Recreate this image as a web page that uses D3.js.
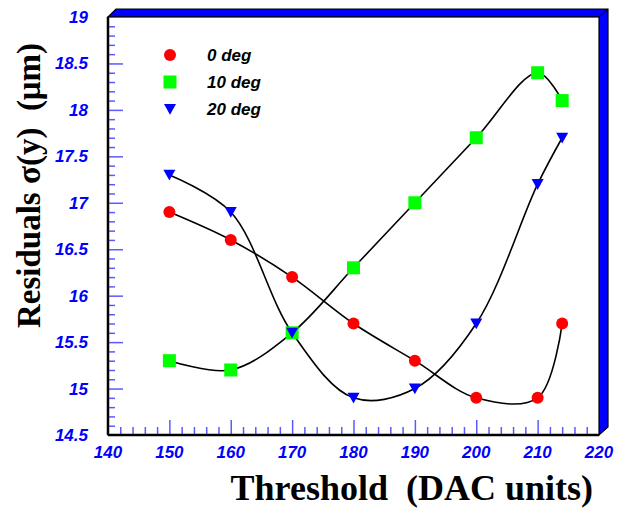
<!DOCTYPE html>
<html>
<head>
<meta charset="utf-8">
<script src="https://cdn.jsdelivr.net/npm/d3@7"></script>
<style>
  html, body { margin: 0; padding: 0; background: #fff; }
  svg { display: block; }
</style>
</head>
<body>
<svg id="chart" width="619" height="508"></svg>
<script>
// Threshold scan values (DAC units)
const thresholds = [150, 160, 170, 180, 190, 200, 210, 214];

// Residual widths (µm) per incidence angle
const series0deg = [16.9, 16.6, 16.2, 15.7, 15.3, 14.9, 14.9, 15.7];
const series10deg = [15.3, 15.2, 15.6, 16.3, 17.0, 17.7, 18.4, 18.1];
const series20deg = [17.3, 16.9, 15.6, 14.9, 15.0, 15.7, 17.2, 17.7];

const seriesNames = ["0 deg", "10 deg", "20 deg"];
const xTicks = [140, 150, 160, 170, 180, 190, 200, 210, 220];
const yTicks = [14.5, 15, 15.5, 16, 16.5, 17, 17.5, 18, 18.5, 19];

const svg = d3.select("#chart");
const L = 108, T = 17, R = 599, B = 435, D = 8;

const x = d3.scaleLinear().domain([140, 220]).range([L, R]);
const y = d3.scaleLinear().domain([14.5, 19]).range([B, T]);

// 3D frame: blue depth band on top and right
svg.append("polygon")
  .attr("points", [[L, T], [L + D, T - D], [R + D + 1, T - D], [R + D + 1, B - D], [R, B], [R, T]].map(p => p.join(",")).join(" "))
  .attr("fill", "#0000ff").attr("stroke", "#000").attr("stroke-width", 1.2);
svg.append("line").attr("x1", R).attr("y1", T).attr("x2", R + D + 1).attr("y2", T - D)
  .attr("stroke", "#000").attr("stroke-width", 1);
svg.append("rect").attr("x", L).attr("y", T).attr("width", R - L).attr("height", B - T)
  .attr("fill", "#fff").attr("stroke", "#000").attr("stroke-width", 1.2);

// Tick marks (major + minor) in light blue
const tickColor = "#5a5aff";
const xMinor = d3.range(142, 220, 2).filter(v => v % 10 !== 0);
const yMinor = d3.range(146, 190, 1).map(v => v / 10).filter(v => Math.abs(v * 2 - Math.round(v * 2)) > 1e-6);

const xAxisMajor = d3.axisTop(x).tickValues(xTicks.slice(1, -1)).tickSize(15).tickFormat("");
const xAxisMinor = d3.axisTop(x).tickValues(xMinor).tickSize(8).tickFormat("");
const yAxisMajor = d3.axisRight(y).tickValues(yTicks.slice(1, -1)).tickSize(15).tickFormat("");
const yAxisMinor = d3.axisRight(y).tickValues(yMinor).tickSize(7).tickFormat("");

[[xAxisMajor, `translate(0,${B})`], [xAxisMinor, `translate(0,${B})`],
 [yAxisMajor, `translate(${L},0)`], [yAxisMinor, `translate(${L},0)`]].forEach(([ax, tr]) => {
  const g = svg.append("g").attr("transform", tr).call(ax);
  g.select(".domain").remove();
  g.selectAll(".tick line").attr("stroke", tickColor).attr("stroke-width", 1.5);
});

// Axis lines
svg.append("line").attr("x1", L).attr("y1", B).attr("x2", R).attr("y2", B).attr("stroke", "#000").attr("stroke-width", 2.5);
svg.append("line").attr("x1", L).attr("y1", T).attr("x2", L).attr("y2", B).attr("stroke", "#000").attr("stroke-width", 2.5);

// Tick labels
const labelFont = "Liberation Sans, Arial, sans-serif";
svg.append("g").selectAll("text").data(xTicks).join("text")
  .attr("x", d => x(d)).attr("y", 458)
  .attr("text-anchor", "middle")
  .attr("font-family", labelFont).attr("font-size", 17).attr("font-weight", "bold").attr("font-style", "italic")
  .attr("fill", "#0000ff").text(d => d);
svg.append("g").selectAll("text").data(yTicks).join("text")
  .attr("x", 88).attr("y", d => y(d) + 6)
  .attr("text-anchor", "end")
  .attr("font-family", labelFont).attr("font-size", 17).attr("font-weight", "bold").attr("font-style", "italic")
  .attr("fill", "#0000ff").text(d => d);

// Axis titles
svg.append("text")
  .attr("x", 593).attr("y", 500).attr("text-anchor", "end")
  .attr("font-family", "Liberation Serif, Times New Roman, serif").attr("font-size", 36).attr("font-weight", "bold")
  .attr("fill", "#000").style("white-space", "pre")
  .text("Threshold  (DAC units)");
svg.append("text")
  .attr("transform", "translate(40,328) rotate(-90)")
  .attr("text-anchor", "start")
  .attr("font-family", "Liberation Serif, Times New Roman, serif").attr("font-size", 33).attr("font-weight", "bold")
  .attr("fill", "#000").style("white-space", "pre")
  .text("Residuals σ(y)  (μm)");

// Smooth curves through each series
const allSeries = [series0deg, series10deg, series20deg];
const line = d3.line().x(d => x(d[0])).y(d => y(d[1])).curve(d3.curveCatmullRom.alpha(0.5));
allSeries.forEach(vals => {
  svg.append("path")
    .datum(thresholds.map((t, i) => [t, vals[i]]))
    .attr("d", line).attr("fill", "none").attr("stroke", "#000").attr("stroke-width", 1.6);
});

// Markers
const triPath = s => `M${-s},${-s * 0.85}L${s},${-s * 0.85}L0,${s * 0.95}Z`;
function marker(g, kind, cx, cy) {
  if (kind === 0) g.append("circle").attr("cx", cx).attr("cy", cy).attr("r", 6).attr("fill", "#ff0000");
  else if (kind === 1) g.append("rect").attr("x", cx - 6.5).attr("y", cy - 6.5).attr("width", 13).attr("height", 13).attr("fill", "#00ff00");
  else g.append("path").attr("transform", `translate(${cx},${cy})`).attr("d", triPath(6)).attr("fill", "#0000ff");
}
const mg = svg.append("g");
allSeries.forEach((vals, k) => {
  thresholds.forEach((t, i) => marker(mg, k, x(t), y(vals[i])));
});

// Legend
const legendY = [55, 82, 109];
seriesNames.forEach((name, k) => {
  marker(svg, k, 170, legendY[k]);
  svg.append("text").attr("x", 207).attr("y", legendY[k] + 6)
    .attr("font-family", labelFont).attr("font-size", 17).attr("font-weight", "bold").attr("font-style", "italic")
    .attr("fill", "#000").text(name);
});
</script>
</body>
</html>
